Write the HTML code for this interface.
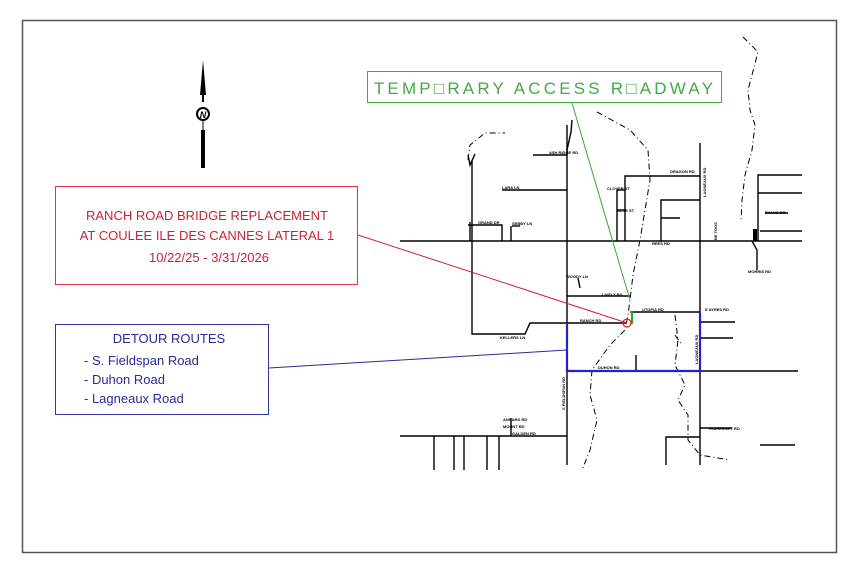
<!DOCTYPE html>
<html><head><meta charset="utf-8"><style>
body{margin:0;background:#fff}
svg{display:block}
</style></head><body>
<svg width="859" height="572" viewBox="0 0 859 572" xmlns="http://www.w3.org/2000/svg" font-family="Liberation Sans, sans-serif">
<rect x="0" y="0" width="859" height="572" fill="#fff"/>
<rect x="22.5" y="20.5" width="814" height="532" fill="none" stroke="#555" stroke-width="1.5"/>

<!-- north arrow -->
<polygon points="203,60 206,95 200,95" fill="#000"/>
<line x1="203" y1="95" x2="203" y2="102" stroke="#000" stroke-width="2"/>
<circle cx="203" cy="114" r="6" fill="none" stroke="#000" stroke-width="2"/>
<text x="203" y="118" font-size="9" font-weight="bold" text-anchor="middle" font-style="italic">N</text>
<line x1="203" y1="120" x2="203" y2="130" stroke="#000"/>
<rect x="201" y="130" width="4" height="38" fill="#000"/>

<!-- roads -->
<g stroke="#000" stroke-width="1.4" fill="none">
<line x1="400" y1="241" x2="802" y2="241"/>
<line x1="567" y1="125" x2="567" y2="465"/>
<line x1="700" y1="143" x2="700" y2="465"/>
<line x1="700" y1="371" x2="798" y2="371"/>
<polyline points="472,160 472,334 525,334 530,323 627,323"/>
<line x1="630" y1="312" x2="700" y2="312"/>
<line x1="567" y1="296" x2="630" y2="296"/>
<polyline points="567,155 567,150 571,132 572,120"/>
<polyline points="400,436 567,436"/>
<line x1="434" y1="436" x2="434" y2="470"/>
<line x1="454" y1="436" x2="454" y2="470"/>
<line x1="464" y1="436" x2="464" y2="470"/>
<line x1="487" y1="436" x2="487" y2="470"/>
<line x1="499" y1="436" x2="499" y2="470"/>
<line x1="511" y1="418" x2="511" y2="436"/>
<polyline points="666,465 666,437 700,437"/>
<line x1="700" y1="428" x2="732" y2="428"/>
<line x1="760" y1="445" x2="795" y2="445"/>
<polyline points="468,155 470,165 475,154"/>
<line x1="502" y1="190" x2="567" y2="190"/>
<line x1="533" y1="155" x2="567" y2="155"/>
<polyline points="470,222 470,241"/>
<polyline points="468,225 502,225 502,241"/>
<line x1="512" y1="226" x2="520" y2="226"/>
<line x1="511" y1="226" x2="511" y2="241"/>
<polyline points="625,241 625,176 700,176"/>
<line x1="617" y1="241" x2="617" y2="190"/>
<line x1="617" y1="190" x2="625" y2="190"/>
<line x1="617" y1="210" x2="625" y2="210"/>
<polyline points="661,241 661,200 700,200"/>
<line x1="661" y1="218" x2="680" y2="218"/>
<polyline points="758,241 758,175 802,175"/>
<line x1="758" y1="193" x2="802" y2="193"/>
<line x1="765" y1="213" x2="788" y2="213"/>
<line x1="760" y1="231" x2="802" y2="231"/>
<polyline points="752,241 757,250 757,270"/>
<line x1="578" y1="278" x2="580" y2="288"/>
<line x1="700" y1="322" x2="735" y2="322"/>
<line x1="636" y1="355" x2="636" y2="371"/>
<line x1="700" y1="338" x2="733" y2="338"/>
</g>
<rect x="753" y="229" width="4" height="12" fill="#000"/>

<!-- dashed creeks -->
<g stroke="#000" stroke-width="1" fill="none" stroke-dasharray="6,3,1,3">
<polyline points="597,112 630,130 648,150 650,180 645,210 640,240 633,275 630,300 628,315 625,330 610,345 592,370 590,395 597,420 590,450 582,470"/>
<polyline points="743,37 758,52 752,75 748,90 750,110 755,125 752,150 745,175 742,200 741,222"/>
<polyline points="675,315 678,340 675,365 685,385 678,400 688,415 688,440 700,455 730,460"/>
<polyline points="468,160 470,145 485,133 505,133"/>
<polyline points="675,335 682,345"/>
</g>

<!-- blue detour -->
<g stroke="#2222cc" stroke-width="2.2" fill="none">
<polyline points="567,323 567,371 700,371 700,312"/>
</g>
<!-- green access -->
<polyline points="630,312 632,312 632,324" stroke="#22aa22" stroke-width="2" fill="none"/>
<circle cx="627" cy="323" r="4" fill="none" stroke="#dd2222" stroke-width="1.3"/>

<!-- callout lines -->
<line x1="358" y1="235" x2="627" y2="323" stroke="#cc2233" stroke-width="1"/>
<line x1="269" y1="368" x2="567" y2="350" stroke="#2a2a99" stroke-width="1"/>
<line x1="572" y1="103" x2="630" y2="300" stroke="#33aa33" stroke-width="1"/>

<!-- green box -->
<rect x="367.5" y="71.5" width="354" height="31" fill="#fff" stroke="#44aa44" stroke-width="1"/>
<text x="545" y="94" font-size="17" fill="#44aa44" text-anchor="middle" letter-spacing="3.2">TEMP&#x25A1;RARY ACCESS R&#x25A1;ADWAY</text>

<!-- red box -->
<rect x="55.5" y="186.5" width="302" height="98" fill="#fff" stroke="#dd3344" stroke-width="1"/>
<g fill="#cc2233" font-size="13" text-anchor="middle">
<text x="207" y="220">RANCH ROAD BRIDGE REPLACEMENT</text>
<text x="207" y="240">AT COULEE ILE DES CANNES LATERAL 1</text>
<text x="209" y="262">10/22/25 - 3/31/2026</text>
</g>

<!-- blue box -->
<rect x="55.5" y="324.5" width="213" height="90" fill="#fff" stroke="#3333aa" stroke-width="1"/>
<g fill="#2a2a99" font-size="13">
<text x="169" y="343" text-anchor="middle">DETOUR ROUTES</text>
<text x="84" y="365">-  S. Fieldspan Road</text>
<text x="84" y="384">-  Duhon Road</text>
<text x="84" y="403">-  Lagneaux Road</text>
</g>

<!-- tiny road labels -->
<g font-size="4" fill="#000" font-weight="bold">
<text x="549" y="154">ASH RIDGE RD</text>
<text x="502" y="189">LARA LN</text>
<text x="478" y="224">GRAND DR</text>
<text x="512" y="225">SEBBY LN</text>
<text x="607" y="190">CLOVER ST</text>
<text x="617" y="212">BLUE ST</text>
<text x="670" y="173">DRAGON RD</text>
<text x="652" y="245">REES RD</text>
<text x="765" y="214">EVANS DR</text>
<text x="748" y="273">MORRIS RD</text>
<text x="566" y="278">WOODY LN</text>
<text x="602" y="296">LIVELY RD</text>
<text x="580" y="322">RANCH RD</text>
<text x="642" y="311">UTOPIA RD</text>
<text x="705" y="311">E AYRES RD</text>
<text x="500" y="339">KELLERS LN</text>
<text x="598" y="369">DUHON RD</text>
<text x="708" y="430">TRAHERNEY RD</text>
<text x="503" y="421">ANNARD RD</text>
<text x="503" y="428">MOUNT RD</text>
<text x="512" y="435">GALDEN RD</text>
</g>
<g font-size="4" fill="#000" font-weight="bold">
<text transform="translate(565,410) rotate(-90)">S FIELDSPAN RD</text>
<text transform="translate(698,364) rotate(-90)">LAGNEAUX RD</text>
<text transform="translate(706,197) rotate(-90)">LAGNEAUX RD</text>
<text transform="translate(717,240) rotate(-90)">BE TOOS</text>
</g>
</svg>
</body></html>
